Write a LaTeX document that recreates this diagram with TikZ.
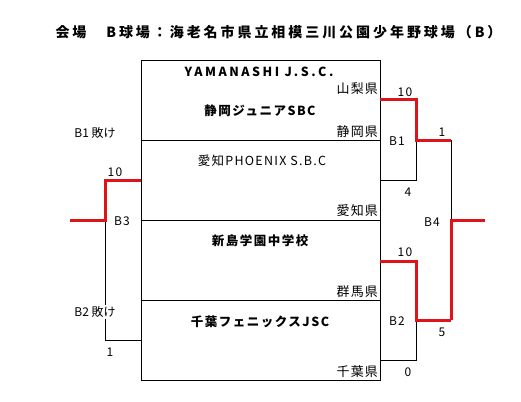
\documentclass[tikz,border=0pt]{standalone}
\usepackage{fontspec}
\setmainfont{Noto Sans CJK JP}
\usetikzlibrary{positioning}

\definecolor{winred}{RGB}{222,20,24}

\begin{document}
\begin{tikzpicture}[
    x=1pt, y=-1pt,
    slot/.style={
        rectangle,
        draw=black,
        line width=1pt,
        minimum width=239pt,
        minimum height=#1,
        inner sep=0pt
    },
    title/.style={
        font=\fontsize{14}{16}\selectfont\bfseries\addfontfeature{LetterSpace=21},
        inner sep=0pt
    },
    team/.style={
        font=\fontsize{12.5}{14}\selectfont\bfseries\addfontfeature{LetterSpace=12},
        inner sep=0pt
    },
    teamwide/.style={
        font=\fontsize{12.5}{14}\selectfont\bfseries\addfontfeature{LetterSpace=20},
        inner sep=0pt
    },
    teamthin/.style={
        font=\fontsize{12.5}{14}\selectfont\addfontfeature{LetterSpace=10},
        inner sep=0pt
    },
    pref/.style={
        anchor=east,
        font=\fontsize{13}{15}\selectfont\addfontfeature{LetterSpace=8},
        inner sep=0pt
    },
    score/.style={
        font=\fontsize{12}{14}\selectfont\addfontfeature{LetterSpace=10},
        inner sep=0pt
    },
    tag/.style={
        font=\fontsize{12}{14}\selectfont,
        fill=white,
        inner sep=1pt
    },
    win/.style={draw=winred, line width=3pt},
    lose/.style={draw=black, line width=1pt}
]
\useasboundingbox (0,0) rectangle (521,401);

% Title
\node[title] (venue) at (278.5,32) {会場　B球場：海老名市県立相模三川公園少年野球場（B）};

% Team slots
\node[slot=79pt] (slot1) at (260.5,100.5) {};
\node[slot=80pt] (slot2) at (260.5,180) {};
\node[slot=80pt] (slot3) at (260.5,260) {};
\node[slot=80pt] (slot4) at (260.5,340) {};

% Team names and prefectures
\node[teamwide] (yamanashi) at (259,72) {YAMANASHI J.S.C.};
\node[pref] (pyamanashi) at (378,89) {山梨県};
\node[team] (shizuoka) at (260,111) {静岡ジュニアSBC};
\node[pref] (pshizuoka) at (378,132) {静岡県};
\node[teamthin] (aichi) at (262,161) {愛知PHOENIX S.B.C};
\node[pref] (paichi) at (378,211) {愛知県};
\node[team] (niijima) at (260,241) {新島学園中学校};
\node[pref] (pgunma) at (378,292) {群馬県};
\node[team] (chiba) at (260,322) {千葉フェニックスJSC};
\node[pref] (pchiba) at (378,372) {千葉県};

% Bracket corners
\coordinate (a1) at (380,100);
\coordinate (a2) at (416,100);
\coordinate (a3) at (416,140);
\coordinate (a4) at (416,180);
\coordinate (a5) at (380,180);
\coordinate (c1) at (380,261);
\coordinate (c2) at (416,261);
\coordinate (c3) at (416,320);
\coordinate (c4) at (416,360);
\coordinate (c5) at (380,360);
\coordinate (d1) at (451,140);
\coordinate (d2) at (451,220);
\coordinate (d3) at (451,320);
\coordinate (d4) at (485,220);
\coordinate (e1) at (70,220);
\coordinate (e2) at (105,220);
\coordinate (e3) at (105,180);
\coordinate (e4) at (141,180);
\coordinate (e5) at (105,340);
\coordinate (e6) at (141,340);

% Black (losing) lines
\draw[lose] (a3) -- (a4) -- (a5);
\draw[lose] (c3) -- (c4) -- (c5);
\draw[lose] (d1) -- (d2);
\draw[lose] (e3) -- (e5) -- (e6);

% Red (winning) lines
\draw[win] (a1) -- (a2) -- (a3) -- (d1);
\draw[win] (c1) -- (c2) -- (c3) -- (d3);
\draw[win] (d3) -- (d2) -- (d4);
\draw[win] (e1) -- (e2) -- (e3) -- (e4);

% Game labels and scores
\node[score] (s1a) at (405,92) {10};
\node[score] (g1) at (397,141) {B1};
\node[score] (s1b) at (408,192) {4};
\node[score] (s4a) at (442,132) {1};
\node[score] (g4) at (432,222) {B4};
\node[score] (s2a) at (405,252) {10};
\node[score] (g2) at (397,321) {B2};
\node[score] (s4b) at (442,332) {5};
\node[score] (s2b) at (408,372) {0};
\node[score] (s3a) at (115,172) {10};
\node[score] (g3) at (122,221) {B3};
\node[score] (s3b) at (110,352) {1};
\node[tag] (lose1) at (95,133) {B1 敗け};
\node[tag] (lose2) at (95,312) {B2 敗け};

\end{tikzpicture}
\end{document}
